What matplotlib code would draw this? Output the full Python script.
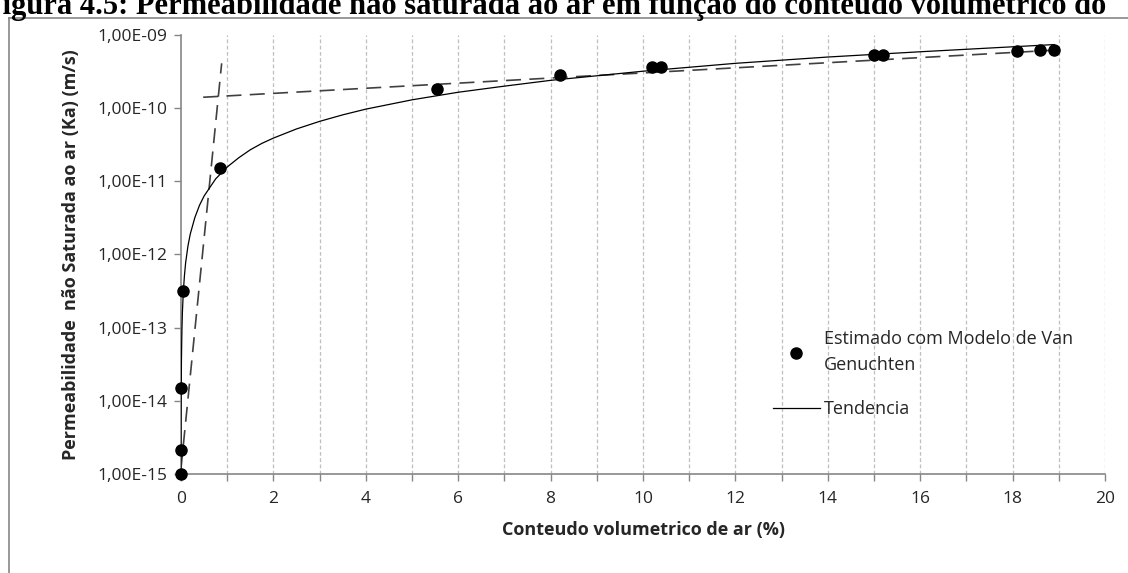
import numpy as np
import matplotlib
matplotlib.use("Agg")
import matplotlib.pyplot as plt
from matplotlib.lines import Line2D

# pontos estimados (modelo de Van Genuchten)
x_est = [0.0, 0.0, 0.0, 0.05, 0.85, 5.55, 8.2, 10.2, 10.4, 15.0, 15.2, 18.1, 18.6, 18.9]
k_est = [1.0e-15, 2.1e-15, 1.5e-14, 3.2e-13, 1.5e-11, 1.8e-10, 2.8e-10,
         3.6e-10, 3.6e-10, 5.3e-10, 5.3e-10, 6.0e-10, 6.2e-10, 6.2e-10]

# linha de tendencia
x_tend = [0.0005, 0.001, 0.002, 0.005, 0.01, 0.02, 0.03, 0.05, 0.075, 0.1, 0.15,
          0.2, 0.3, 0.4, 0.5, 0.75, 1.0, 1.25, 1.5, 1.75, 2.0, 2.5, 3.0, 3.5, 4.0,
          5.0, 6.0, 7.0, 8.0, 10.0, 12.0, 14.0, 16.0, 18.0, 18.9]
k_tend = [7.5e-16, 1.8e-15, 4.5e-15, 1.5e-14, 3.8e-14, 9.4e-14, 1.6e-13, 3.1e-13,
          5.2e-13, 7.7e-13, 1.3e-12, 1.9e-12, 3.2e-12, 4.7e-12, 6.3e-12, 1.08e-11,
          1.57e-11, 2.1e-11, 2.7e-11, 3.3e-11, 3.9e-11, 5.2e-11, 6.6e-11, 8.1e-11,
          9.7e-11, 1.3e-10, 1.65e-10, 2.0e-10, 2.4e-10, 3.2e-10, 4.1e-10, 5.0e-10,
          5.9e-10, 6.9e-10, 7.4e-10]

# retas tracejadas
x_dash1 = [0.0, 0.88]
k_dash1 = [1.2e-15, 4.1e-10]
x_dash2 = [0.48, 18.9]
k_dash2 = [1.41e-10, 6.2e-10]

yticks = [1e-15, 1e-14, 1e-13, 1e-12, 1e-11, 1e-10, 1e-9]
ylabels = ["1,00E-15", "1,00E-14", "1,00E-13", "1,00E-12", "1,00E-11", "1,00E-10", "1,00E-09"]
xticks = [0, 2, 4, 6, 8, 10, 12, 14, 16, 18, 20]

fsize = 12.5
gray = "#868686"
txt = "#262626"

fig = plt.figure(figsize=(11.28, 5.73), dpi=100)
ax = fig.add_axes([181/1128, 1 - 474/573, (1105 - 181)/1128, (474 - 35)/573])

ax.set_yscale("log")
ax.set_xlim(0, 20)
ax.set_ylim(1e-15, 1e-9)

# grade vertical em cada inteiro
for xv in range(1, 21):
    ax.axvline(xv, color="#bfbfbf", lw=0.9, ls=(0, (3, 2)), zorder=0)

ax.plot(x_dash1, k_dash1, color="#404040", lw=1.2, ls=(0, (9, 5)), zorder=2)
ax.plot(x_dash2, k_dash2, color="#404040", lw=1.2, ls=(0, (9, 5)), zorder=2)
ax.plot(x_tend, k_tend, color="black", lw=0.9, label="Tendencia", zorder=3)
ax.plot(x_est, k_est, "o", color="black", ms=8, clip_on=False,
        label="Estimado com Modelo de Van\nGenuchten", zorder=4)

ax.set_yticks(yticks)
ax.set_yticklabels(ylabels)
ax.yaxis.set_minor_locator(matplotlib.ticker.NullLocator())
ax.set_xticks(xticks)
ax.set_xticks(range(0, 21), minor=True)
ax.tick_params(axis="both", which="both", color=gray, length=5, width=1,
               labelsize=fsize, labelcolor=txt, direction="out")
ax.tick_params(axis="x", pad=7)
ax.tick_params(axis="y", pad=5)
for lbl in ax.get_xticklabels() + ax.get_yticklabels():
    lbl.set_family("Open Sans")

for s in ["top", "right"]:
    ax.spines[s].set_visible(False)
for s in ["left", "bottom"]:
    ax.spines[s].set_color(gray)
    ax.spines[s].set_linewidth(1.2)

ax.set_xlabel("Conteudo volumetrico de ar (%)", fontsize=13, fontweight="bold",
              family="Open Sans", color=txt, labelpad=10)
ax.set_ylabel("Permeabilidade  não Saturada ao ar (Ka) (m/s)", fontsize=13,
              fontweight="bold", family="Open Sans", color=txt, labelpad=12)

h, l = ax.get_legend_handles_labels()
leg = ax.legend(h[::-1], l[::-1], loc="upper left", frameon=False,
                bbox_to_anchor=(773/1128, 1 - 330/573), bbox_transform=fig.transFigure,
                borderaxespad=0, borderpad=0, handlelength=2.6, handletextpad=0.2,
                labelspacing=1.45, prop={"family": "Open Sans", "size": 13})
for t in leg.get_texts():
    t.set_color(txt)
    t.set_linespacing(1.55)

# moldura do grafico e titulo cortado
fig.add_artist(Line2D([9/1128, 9/1128], [-0.1, 1 - 18/573], color=gray, lw=1.2))
fig.add_artist(Line2D([9/1128, 1.1], [1 - 18/573, 1 - 18/573], color=gray, lw=1.2))
fig.text(-16/1128, 1 - 14/573,
         "Figura 4.5: Permeabilidade não saturada ao ar em função do conteúdo volumétrico do",
         family="Liberation Serif", fontweight="bold", fontsize=22, ha="left", va="baseline")

plt.savefig("out.png", dpi=100)
